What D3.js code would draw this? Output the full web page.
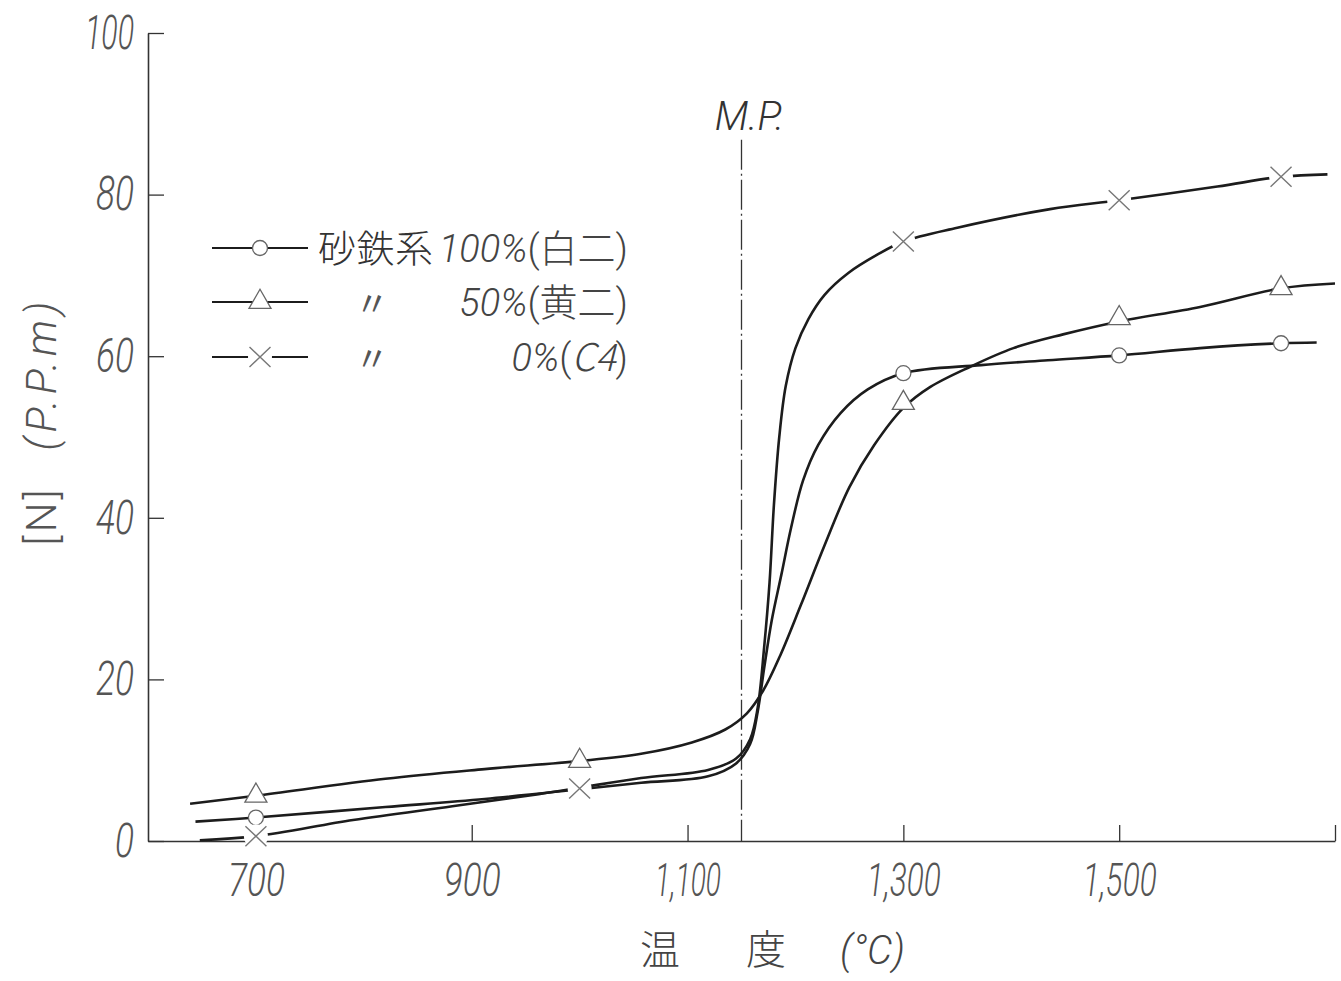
<!DOCTYPE html>
<html>
<head>
<meta charset="utf-8">
<script src="https://cdn.jsdelivr.net/npm/d3@7"></script>
<style>
    body { margin: 0; background: #fff; }
    svg text { font-family: Roboto, "Noto Sans CJK JP", sans-serif; }
</style>
</head>
<body>
<svg id="chart" width="1341" height="981"></svg>
<script>
'use strict';

// temperatures where the measured points are marked
const markTemps = [700, 1000, 1300, 1500, 1650];
const circleMarks = [2.9, 6.4, 57.9, 60.1, 61.6];
const triangleMarks = [5.6, 9.9, 54.2, 64.7, 68.4];
const crossMarks = [0.6, 6.5, 74.2, 79.3, 82.2];

// drawn curves as [temp, N ppm]
const circleCurve = [[644, 2.4], [700, 2.9], [820, 4.2], [912, 5.2], [1000, 6.4], [1057, 7.2], [1119, 8.0],
    [1145, 9.6], [1158, 12.0], [1165, 16.0], [1171, 21.4], [1178, 27.3], [1187, 33.0], [1196, 38.8],
    [1207, 44.6], [1221, 49.0], [1242, 53.0], [1267, 55.9], [1300, 57.9], [1372, 58.9], [1434, 59.5],
    [1500, 60.1], [1575, 61.0], [1650, 61.6], [1683, 61.7]];
const triangleCurve = [[639, 4.6], [700, 5.6], [820, 7.7], [912, 8.9], [1000, 9.9], [1057, 10.8], [1104, 12.2],
    [1135, 13.8], [1155, 15.8], [1170, 18.6], [1186, 23.0], [1205, 29.2], [1227, 36.6], [1250, 43.8],
    [1273, 49.0], [1300, 53.6], [1325, 56.2], [1362, 58.7], [1402, 61.0], [1448, 62.7], [1500, 64.3],
    [1575, 66.1], [1650, 68.4], [1700, 69.0]];
const crossCurve = [[648, 0.1], [700, 0.6], [790, 2.6], [882, 4.3], [962, 5.8], [1000, 6.6], [1057, 7.8],
    [1119, 8.8], [1145, 10.2], [1158, 12.6], [1165, 16.5], [1171, 24.0], [1176, 32.0], [1180, 41.5],
    [1185, 50.0], [1191, 56.3], [1200, 61.0], [1212, 64.6], [1227, 67.6], [1249, 70.3], [1275, 72.5],
    [1300, 74.2], [1350, 75.9], [1436, 78.2], [1500, 79.3], [1591, 81.0], [1650, 82.2], [1693, 82.5]];

const xTicks = [700, 900, 1100, 1300, 1500, 1700];
const yTicks = [0, 20, 40, 60, 80, 100];
const meltingPoint = 1150;

const legendNames = ['砂鉄系', '〃', '〃'];
const legendPcts = ['100%', '50%', '0%'];
const legendCodes = ['白二', '黄二', 'C4'];

(function () {
    const svg = d3.select('#chart');

    const x = d3.scaleLinear().domain([600, 1700]).range([148, 1335]);
    const y = d3.scaleLinear().domain([0, 100]).range([841, 33]);

    const ink = '#1c1c1c';
    const grey = '#555';

    // squeeze the digits like the hand lettering
    const digitWidth = s => s.split('').reduce((w, c) => w + (c === '1' ? 11 : c === ',' ? 6 : 19), 0);

    // axes
    const xAxis = svg.append('g')
        .attr('transform', `translate(0, ${y(0)})`)
        .call(d3.axisBottom(x)
            .tickValues(xTicks)
            .tickSizeInner(-16)
            .tickSizeOuter(0)
            .tickPadding(14)
            .tickFormat(d => d === 1700 ? '' : d3.format(',')(d)));

    xAxis.select('.domain').attr('stroke', '#333').attr('stroke-width', 1.6);
    xAxis.selectAll('.tick line').attr('stroke', '#333').attr('stroke-width', 1.3);
    xAxis.selectAll('.tick text')
        .attr('font-size', 46)
        .attr('font-style', 'italic')
        .attr('font-weight', 300)
        .attr('fill', grey)
        .attr('dy', '0.9em')
        .attr('textLength', d => digitWidth(d3.format(',')(d)))
        .attr('lengthAdjust', 'spacingAndGlyphs');

    const yAxis = svg.append('g')
        .attr('transform', `translate(${x(600)}, 0)`)
        .call(d3.axisLeft(y)
            .tickValues(yTicks)
            .tickSizeInner(-16)
            .tickSizeOuter(0)
            .tickPadding(14)
            .tickFormat(d3.format('d')));

    yAxis.select('.domain').attr('stroke', '#333').attr('stroke-width', 1.6);
    yAxis.selectAll('.tick line').attr('stroke', '#333').attr('stroke-width', 1.3);
    yAxis.selectAll('.tick text')
        .attr('font-size', 48)
        .attr('font-style', 'italic')
        .attr('font-weight', 300)
        .attr('fill', grey)
        .attr('textLength', d => digitWidth(String(d)))
        .attr('lengthAdjust', 'spacingAndGlyphs');

    // melting point
    svg.append('line')
        .attr('x1', x(meltingPoint)).attr('x2', x(meltingPoint))
        .attr('y1', y(86.8)).attr('y2', y(0))
        .attr('stroke', '#333')
        .attr('stroke-width', 1.3)
        .attr('stroke-dasharray', '30,4,2,4');

    svg.append('text')
        .attr('x', x(meltingPoint) + 8)
        .attr('y', 130)
        .attr('text-anchor', 'middle')
        .attr('font-size', 40)
        .attr('font-style', 'italic')
        .attr('font-weight', 300)
        .attr('fill', '#333')
        .text('M.P.');

    // curves
    const line = d3.line()
        .x(d => x(d[0]))
        .y(d => y(d[1]))
        .curve(d3.curveCatmullRom.alpha(0.5));

    [circleCurve, triangleCurve, crossCurve].forEach(c => {
        svg.append('path')
            .attr('d', line(c))
            .attr('fill', 'none')
            .attr('stroke', ink)
            .attr('stroke-width', 2.6);
    });

    // markers
    const drawMarker = (g, shape) => {
        if (shape === 'circle') {
            g.append('circle').attr('r', 7.5)
                .attr('fill', '#fff').attr('stroke', '#666').attr('stroke-width', 1.3);
        } else if (shape === 'triangle') {
            g.append('path').attr('d', d3.symbol().type(d3.symbolTriangle).size(210)())
                .attr('fill', '#fff').attr('stroke', '#666').attr('stroke-width', 1.3);
        } else {
            g.append('circle').attr('r', 12).attr('fill', '#fff');
            g.append('path').attr('d', 'M-10.5,-10L10.5,10M-10.5,10L10.5,-10')
                .attr('stroke', '#777').attr('stroke-width', 1.4).attr('fill', 'none');
        }
    };

    const series = [
        {shape: 'circle', marks: circleMarks},
        {shape: 'triangle', marks: triangleMarks},
        {shape: 'cross', marks: crossMarks}
    ];

    series.forEach(s => {
        markTemps.forEach((t, i) => {
            const g = svg.append('g').attr('transform', `translate(${x(t)}, ${y(s.marks[i])})`);
            drawMarker(g, s.shape);
        });
    });

    // legend
    const legendRows = [248, 302, 357];
    series.forEach((s, i) => {
        const ly = legendRows[i];
        svg.append('line')
            .attr('x1', 212).attr('x2', 308)
            .attr('y1', ly).attr('y2', ly)
            .attr('stroke', ink).attr('stroke-width', 2);
        drawMarker(svg.append('g').attr('transform', `translate(260, ${ly})`), s.shape);

        if (i === 0) {
            svg.append('text')
                .attr('x', 318).attr('y', ly + 14)
                .attr('font-size', 38)
                .attr('font-family', '"Noto Sans CJK JP"')
                .attr('font-weight', 300)
                .attr('fill', '#333')
                .attr('textLength', 115)
                .text(legendNames[i]);
        } else {
            svg.append('text')
                .attr('x', 372).attr('y', ly + 14)
                .attr('text-anchor', 'middle')
                .attr('font-size', 34)
                .attr('font-family', '"Noto Sans CJK JP"')
                .attr('fill', '#555')
                .text(legendNames[i]);
        }

        const t = svg.append('text')
            .attr('x', 628).attr('y', ly + 14)
            .attr('text-anchor', 'end')
            .attr('font-size', 38)
            .attr('font-weight', 300)
            .attr('fill', '#444');
        t.append('tspan').attr('font-style', 'italic').text(legendPcts[i]);
        t.append('tspan').text('(');
        t.append('tspan')
            .attr('font-style', /^[A-Za-z0-9]+$/.test(legendCodes[i]) ? 'italic' : 'normal')
            .attr('font-family', '"Noto Sans CJK JP", Roboto')
            .text(legendCodes[i]);
        t.append('tspan').text(')');
    });

    // axis titles
    const yTitle = svg.append('text')
        .attr('transform', 'translate(56, 421) rotate(-90)')
        .attr('text-anchor', 'middle')
        .attr('font-size', 42)
        .attr('font-weight', 300)
        .attr('fill', '#555');
    yTitle.append('tspan').attr('letter-spacing', 3).text('[N]');
    yTitle.append('tspan').attr('dx', 36).attr('font-style', 'italic')
        .attr('letter-spacing', 5).text('(P.P.m)');

    const xTitle = svg.append('text')
        .attr('y', 964)
        .attr('font-size', 40)
        .attr('font-weight', 300)
        .attr('fill', '#444');
    xTitle.append('tspan').attr('x', 640).attr('font-family', '"Noto Sans CJK JP"').text('温');
    xTitle.append('tspan').attr('x', 746).attr('font-family', '"Noto Sans CJK JP"').text('度');
    xTitle.append('tspan').attr('x', 840).attr('font-style', 'italic').text('(°C)');
})();
</script>
</body>
</html>
